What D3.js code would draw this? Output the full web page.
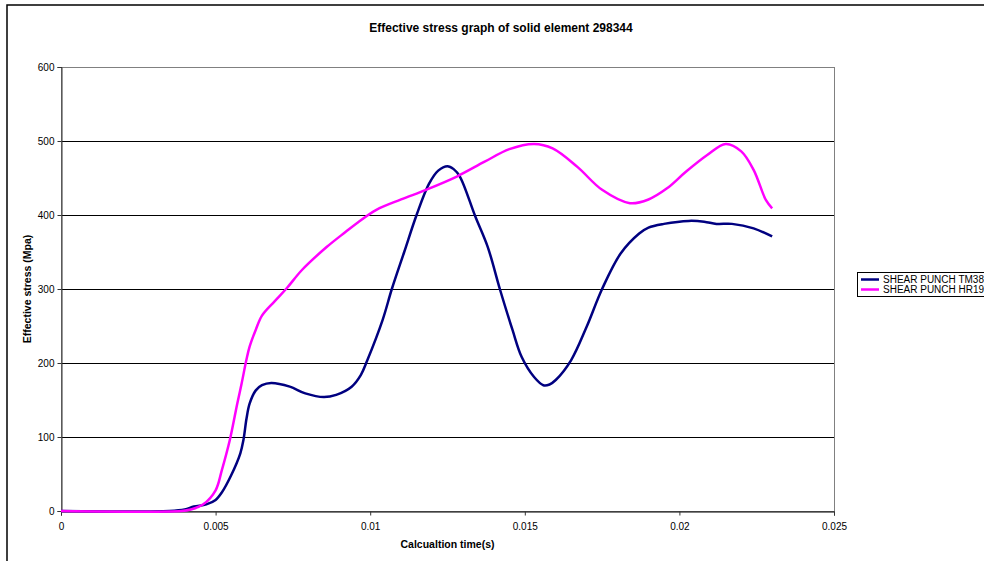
<!DOCTYPE html>
<html>
<head>
<meta charset="utf-8">
<script src="https://cdn.jsdelivr.net/npm/d3@7"></script>
<style>
  html, body { margin: 0; padding: 0; background: #fff; }
  svg { display: block; font-family: "Liberation Sans", Arial, sans-serif; }
</style>
</head>
<body>
<svg id="chart" width="984" height="561"></svg>
<script>
// Effective stress history of solid element 298344 for two punch configurations.
const chartTitle = "Effective stress graph of solid element 298344";
const xTitle = "Calcualtion time(s)";
const yTitle = "Effective stress (Mpa)";
const seriesNames = ["SHEAR PUNCH TM38", "SHEAR PUNCH HR19"];
const seriesColors = ["#000080", "#FF00FF"];

const xTicks = [0, 0.005, 0.01, 0.015, 0.02, 0.025];
const xTickLabels = ["0", "0.005", "0.01", "0.015", "0.02", "0.025"];
const yTicks = [0, 100, 200, 300, 400, 500, 600];

// TM38: time (s) and effective stress (MPa)
const tm38Time = [0, 0.0035, 0.0040, 0.0043, 0.0047, 0.0050, 0.0052, 0.0055, 0.0058, 0.0059,
  0.0060, 0.0061, 0.0063, 0.0065, 0.0068, 0.0074, 0.0079, 0.0085, 0.0089, 0.0094,
  0.0097, 0.0099, 0.0104, 0.0107, 0.0111, 0.0115, 0.0119, 0.0122, 0.0125, 0.0127,
  0.0129, 0.0134, 0.0138, 0.0142, 0.0146, 0.0149, 0.0153, 0.0156, 0.0158, 0.0160,
  0.0165, 0.0170, 0.0175, 0.0181, 0.0187, 0.0190, 0.0195, 0.0203, 0.0208, 0.0212,
  0.0217, 0.0224, 0.0230];
const tm38Stress = [0, 0, 2, 6, 9, 15, 25, 48, 78, 96,
  125, 145, 163, 170, 173, 168, 159, 154, 157, 168,
  184, 203, 258, 300, 350, 400, 442, 460, 466, 462,
  452, 398, 357, 299, 245, 208, 181, 170, 171, 177,
  204, 249, 300, 348, 375, 383, 388, 392, 391, 388,
  388, 382, 371];

// HR19: time (s) and effective stress (MPa)
const hr19Time = [0, 0.0039, 0.0042, 0.0046, 0.0050, 0.0052, 0.00546, 0.0057, 0.00584, 0.0060,
  0.0061, 0.0063, 0.0065, 0.0069, 0.0073, 0.0078, 0.0086, 0.0092, 0.0096, 0.0102,
  0.0110, 0.0118, 0.0128, 0.0137, 0.0145, 0.0153, 0.0159, 0.0167, 0.0175, 0.0184,
  0.0190, 0.0196, 0.0202, 0.0209, 0.0215, 0.0220, 0.0224, 0.0228, 0.0230];
const hr19Stress = [0, 0, 2, 9, 28, 55, 96, 145, 172, 205,
  222, 245, 264, 283, 301, 326, 357, 377, 390, 407,
  421, 434, 452, 472, 489, 496, 490, 465, 434, 416,
  421, 436, 458, 481, 496, 486, 461, 420, 409];

const series = [
  { name: seriesNames[0], color: seriesColors[0], pts: tm38Time.map((t, i) => [t, tm38Stress[i]]) },
  { name: seriesNames[1], color: seriesColors[1], pts: hr19Time.map((t, i) => [t, hr19Stress[i]]) }
];

const svg = d3.select("#chart");
const plot = { left: 61, right: 834, top: 67, bottom: 511 };

const x = d3.scaleLinear().domain([0, 0.025]).range([plot.left, plot.right]);
const y = d3.scaleLinear().domain([0, 600]).range([plot.bottom, plot.top]);

// outer chart frame
svg.append("rect")
  .attr("x", 7).attr("y", 5).attr("width", 1000).attr("height", 600)
  .attr("fill", "#fff").attr("stroke", "#000").attr("stroke-width", 1.5);

// title
svg.append("text")
  .attr("x", 501).attr("y", 32)
  .attr("text-anchor", "middle")
  .attr("font-size", 12).attr("font-weight", "bold")
  .text(chartTitle);

// horizontal gridlines
svg.append("g")
  .selectAll("line")
  .data(yTicks.filter(v => v > 0 && v < 600))
  .join("line")
  .attr("x1", plot.left).attr("x2", plot.right)
  .attr("y1", d => Math.round(y(d)) + 0.5).attr("y2", d => Math.round(y(d)) + 0.5)
  .attr("stroke", "#000").attr("stroke-width", 1);

// plot area border
svg.append("rect")
  .attr("x", plot.left + 0.5).attr("y", plot.top + 0.5)
  .attr("width", plot.right - plot.left).attr("height", plot.bottom - plot.top)
  .attr("fill", "none").attr("stroke", "#808080").attr("stroke-width", 1);

// axes
const yAxis = d3.axisLeft(y).tickValues(yTicks).tickSize(4).tickPadding(3).tickFormat(d3.format("d"));
const gy = svg.append("g").attr("transform", `translate(${plot.left + 0.5},0)`).call(yAxis);
gy.select(".domain").attr("stroke", "#333");
gy.selectAll(".tick line").attr("stroke", "#333");
gy.selectAll("text").attr("font-size", 10).attr("font-family", "Liberation Sans, Arial, sans-serif").attr("fill", "#000");

const xAxis = d3.axisBottom(x).tickValues(xTicks).tickSize(4).tickPadding(7)
  .tickFormat((d, i) => xTickLabels[i]);
const gx = svg.append("g").attr("transform", `translate(0,${plot.bottom + 0.5})`).call(xAxis);
gx.select(".domain").attr("stroke", "#000");
gx.selectAll(".tick line").attr("stroke", "#333");
gx.selectAll("text").attr("font-size", 10).attr("font-family", "Liberation Sans, Arial, sans-serif").attr("fill", "#000");

// axis titles
svg.append("text")
  .attr("x", (plot.left + plot.right) / 2).attr("y", 548)
  .attr("text-anchor", "middle")
  .attr("font-size", 10.5).attr("font-weight", "bold")
  .text(xTitle);

svg.append("text")
  .attr("transform", `translate(31,${(plot.top + plot.bottom) / 2}) rotate(-90)`)
  .attr("text-anchor", "middle")
  .attr("font-size", 10.5).attr("font-weight", "bold")
  .text(yTitle);

// series lines, smoothed
const line = d3.line()
  .x(d => x(d[0]))
  .y(d => y(d[1]))
  .curve(d3.curveCatmullRom.alpha(0.5));

svg.append("g")
  .selectAll("path")
  .data(series)
  .join("path")
  .attr("d", d => line(d.pts))
  .attr("fill", "none")
  .attr("stroke", d => d.color)
  .attr("stroke-width", 2.5)
  .attr("stroke-linejoin", "round");

// legend
const legend = svg.append("g").attr("transform", "translate(857,272)");
legend.append("rect")
  .attr("x", 0.5).attr("y", 0.5).attr("width", 200).attr("height", 24)
  .attr("fill", "#fff").attr("stroke", "#000").attr("stroke-width", 1);
const items = legend.selectAll("g.item")
  .data(series)
  .join("g")
  .attr("class", "item")
  .attr("transform", (d, i) => `translate(0,${7 + i * 10})`);
items.append("line")
  .attr("x1", 4).attr("x2", 22).attr("y1", 0.5).attr("y2", 0.5)
  .attr("stroke", d => d.color).attr("stroke-width", 2.5);
items.append("text")
  .attr("x", 26).attr("y", 4)
  .attr("font-size", 10)
  .text(d => d.name);
</script>
</body>
</html>
